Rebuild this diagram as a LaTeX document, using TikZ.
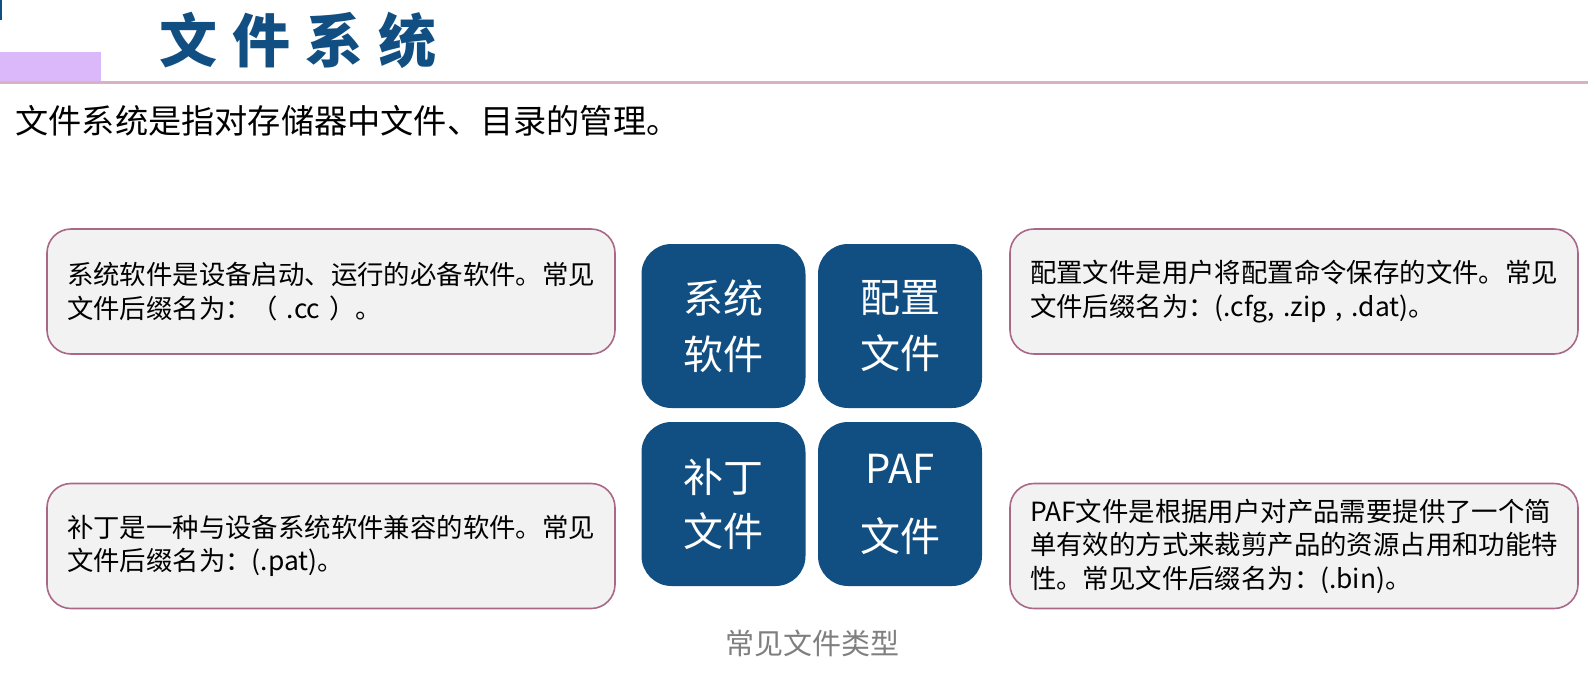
\documentclass[tikz,border=0pt]{standalone}
\usepackage{fontspec}
\setmainfont{Noto Sans CJK SC}
\definecolor{dblue}{RGB}{17,79,130}
\definecolor{lpurple}{RGB}{219,184,250}
\definecolor{rule}{RGB}{216,178,196}
\definecolor{mauve}{RGB}{170,104,136}
\definecolor{lgray}{RGB}{242,242,242}
\definecolor{capgray}{RGB}{127,127,127}
\begin{document}
\begin{tikzpicture}[x=1pt,y=-1pt,
  infobox/.style={draw=mauve,line width=1.6pt,fill=lgray,rounded corners=24pt,
    minimum width=568pt,minimum height=125pt,text width=528pt,inner xsep=20pt,
    align=left,font=\fontsize{26.4}{33.5}\selectfont},
  bluebox/.style={fill=dblue,rounded corners=30pt,minimum width=164pt,minimum height=164pt,
    text=white,align=center,font=\fontsize{40}{56}\selectfont}]
\useasboundingbox (0,0) rectangle (1588,678);
\fill[dblue] (0,0) rectangle (2,20);
\fill[lpurple] (0,52) rectangle (101,81);
\fill[rule] (0,81) rectangle (1588,84);
\node[text=dblue,font=\fontsize{58}{70}\selectfont\bfseries] (title) at (298,40)
  {文\hspace{15pt}件\hspace{15pt}系\hspace{15pt}统};
\node[anchor=west,font=\fontsize{33.2}{40}\selectfont] (sub) at (12,121)
  {文件系统是指对存储器中文件、目录的管理。};
\node[infobox] (tl) at (331,291.5)
  {系统软件是设备启动、运行的必备软件。常见\\文件后缀名为：（ .cc ）。};
\node[infobox] (bl) at (331,546)
  {补丁是一种与设备系统软件兼容的软件。常见\\文件后缀名为：(.pat)。};
\node[infobox] (tr) at (1294,291.5)
  {配置文件是用户将配置命令保存的文件。常见\\文件后缀名为：(.cfg, .zip , .dat)。};
\node[infobox] (br) at (1294,546)
  {PAF文件是根据用户对产品需要提供了一个简\\单有效的方式来裁剪产品的资源占用和功能特\\性。常见文件后缀名为：(.bin)。};
\node[bluebox] (b1) at (723.5,326) {系统\\软件};
\node[bluebox] (b2) at (900,326) {配置\\文件};
\node[bluebox] (b3) at (723.5,504) {补丁\\[-2pt]文件};
\node[bluebox] (b4) at (900,504) {PAF\\[12pt]文件};
\node[text=capgray,font=\fontsize{29}{35}\selectfont] (cap) at (812,643) {常见文件类型};
\end{tikzpicture}
\end{document}
